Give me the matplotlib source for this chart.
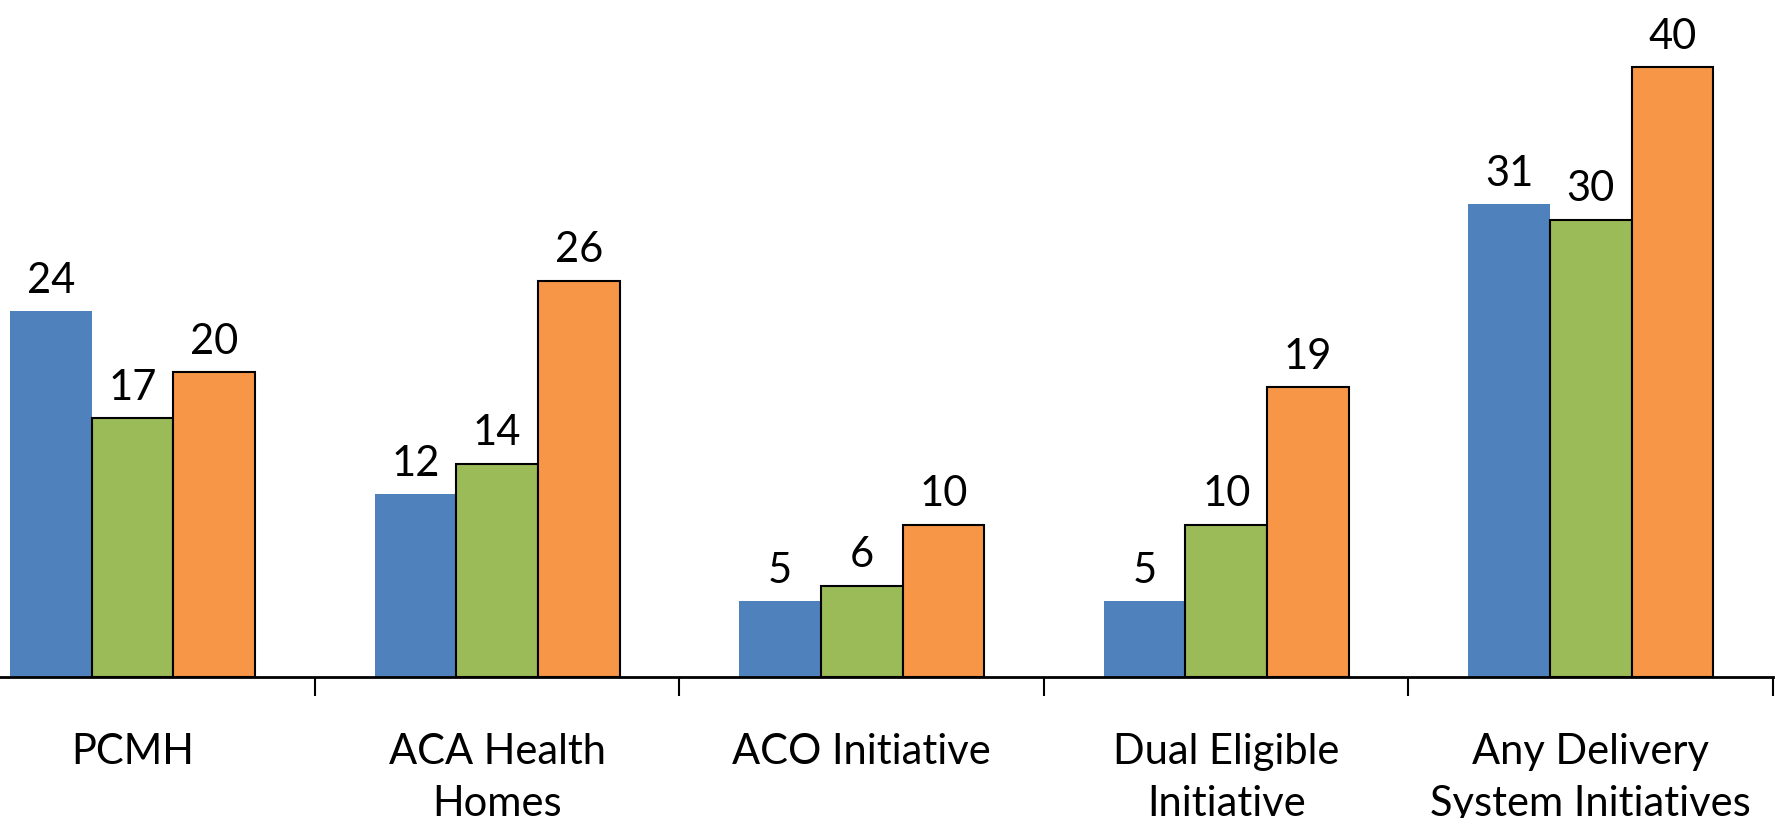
import matplotlib.pyplot as plt
import numpy as np

plt.rcParams['font.family'] = ['Lato', 'DejaVu Sans']

categories = ['PCMH', 'ACA Health\nHomes', 'ACO Initiative', 'Dual Eligible\nInitiative', 'Any Delivery\nSystem Initiatives']
series_a = [24, 12, 5, 5, 31]
series_b = [17, 14, 6, 10, 30]
series_c = [20, 26, 10, 19, 40]

blue = '#4F81BD'
green = '#9BBB59'
orange = '#F79646'

fig = plt.figure(figsize=(17.81, 8.18), dpi=100)
# axes start a little outside the left edge so the first group sits near the border
ax = fig.add_axes([-49.6/1781, 141/818, (1773+49.6)/1781, 677/818])

x = np.arange(len(categories))
w = 0.224
bars = [
    ax.bar(x - w, series_a, w, color=blue, edgecolor='none'),
    ax.bar(x, series_b, w, color=green, edgecolor='black', linewidth=1.5),
    ax.bar(x + w, series_c, w, color=orange, edgecolor='black', linewidth=1.5),
]
for b in bars:
    ax.bar_label(b, padding=8, fontsize=30)

ax.set_xlim(-0.5, 4.5)
ax.set_ylim(0, 677/15.25)

for s in ['top', 'left', 'right']:
    ax.spines[s].set_visible(False)
ax.spines['bottom'].set_linewidth(2)
ax.set_yticks([])

ax.set_xticks(np.arange(-0.5, 5.0, 1.0))
ax.set_xticklabels([])
ax.tick_params(axis='x', which='major', length=14, width=1.5, direction='out')
ax.set_xticks(x, minor=True)
ax.set_xticklabels(categories, minor=True, fontsize=30, linespacing=1.45)
ax.tick_params(axis='x', which='minor', length=0, pad=40)

fig.savefig('out.png', dpi=100)
